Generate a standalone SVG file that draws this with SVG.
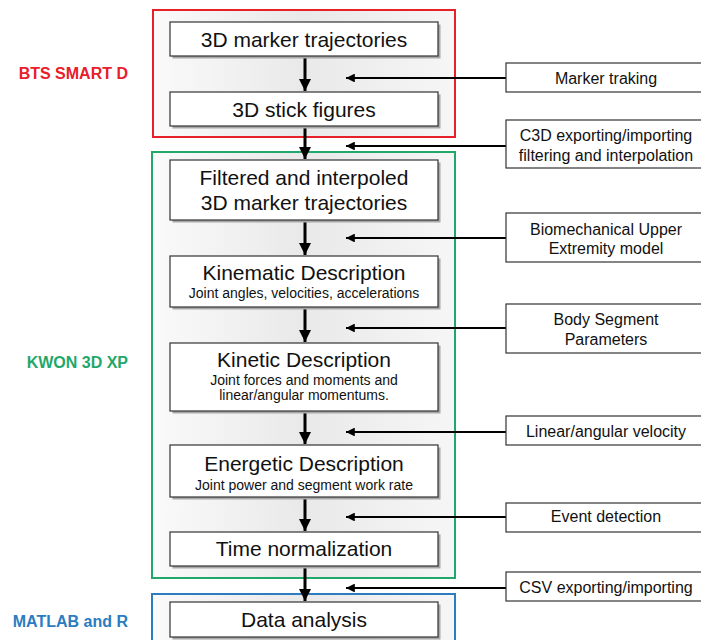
<svg xmlns="http://www.w3.org/2000/svg" width="701" height="640" viewBox="0 0 701 640">
<defs>
<linearGradient id="bg" x1="0" y1="0" x2="1" y2="0">
<stop offset="0" stop-color="#fafafa"/>
<stop offset="0.5" stop-color="#e9e9e9"/>
<stop offset="1" stop-color="#f6f6f6"/>
</linearGradient>
<marker id="ah" viewBox="0 0 10 10" refX="10" refY="5" markerWidth="4" markerHeight="4" orient="auto" markerUnits="strokeWidth">
<path d="M0,0 L10,5 L0,10 z" fill="#000"/>
</marker>
<marker id="ah2" viewBox="0 0 10 10" refX="10" refY="5" markerWidth="4.5" markerHeight="4" orient="auto" markerUnits="strokeWidth">
<path d="M0,0 L10,5 L0,10 z" fill="#000"/>
</marker>
</defs>
<style>
.frame{stroke-width:2;}
.box{fill:#fff;stroke:#333;stroke-width:1.2;}
.shadow{fill:#a8a8a8;}
.rbox{fill:#fff;stroke:#333;stroke-width:1.2;}
.t{font-family:"Liberation Sans",Arial,sans-serif;fill:#111;text-anchor:middle;}
.main{font-size:21px;}
.sub{font-size:14px;}
.side{font-size:16px;}
.grp{font-family:"Liberation Sans",Arial,sans-serif;font-weight:bold;font-size:16px;text-anchor:end;}
.v{stroke:#000;stroke-width:3;fill:none;marker-end:url(#ah);}
.h{stroke:#000;stroke-width:2.2;fill:none;marker-end:url(#ah2);}
</style>
<rect width="701" height="640" fill="#fff"/>

<g id="frames">
<rect x="153" y="10" width="302" height="127" fill="url(#bg)" stroke="#e8202a" class="frame"/>
<rect x="152" y="152" width="303" height="426" fill="url(#bg)" stroke="#1fa86a" class="frame"/>
<rect x="152" y="594" width="303" height="52" fill="url(#bg)" stroke="#2b7cc0" class="frame"/>
<text class="grp" x="128" y="79" fill="#e8202a">BTS SMART D</text>
<text class="grp" x="128" y="368" fill="#1fa86a">KWON 3D XP</text>
<text class="grp" x="128" y="627" fill="#2b7cc0">MATLAB and R</text>
</g>

<g id="connectors">
<line class="v" x1="305" y1="57" x2="305" y2="91"/>
<line class="v" x1="305" y1="127" x2="305" y2="159"/>
<line class="v" x1="305" y1="221" x2="305" y2="255"/>
<line class="v" x1="305" y1="308" x2="305" y2="342"/>
<line class="v" x1="305" y1="412" x2="305" y2="444"/>
<line class="v" x1="305" y1="498" x2="305" y2="531"/>
<line class="v" x1="305" y1="567" x2="305" y2="601"/>
<line class="h" x1="506" y1="78" x2="346" y2="78"/>
<line class="h" x1="506" y1="146" x2="346" y2="146"/>
<line class="h" x1="506" y1="238" x2="346" y2="238"/>
<line class="h" x1="506" y1="328" x2="346" y2="328"/>
<line class="h" x1="506" y1="432" x2="346" y2="432"/>
<line class="h" x1="506" y1="517" x2="346" y2="517"/>
<line class="h" x1="506" y1="588" x2="346" y2="588"/>
</g>

<g id="n1"><rect class="shadow" x="172.5" y="24.5" width="268" height="34"/><rect class="box" x="170" y="22" width="268" height="34"/><text class="t main" x="304" y="46.5">3D marker trajectories</text></g>
<g id="n2"><rect class="shadow" x="172.5" y="94.5" width="268" height="34"/><rect class="box" x="170" y="92" width="268" height="34"/><text class="t main" x="304" y="116.5">3D stick figures</text></g>
<g id="n3"><rect class="shadow" x="172.5" y="162.5" width="268" height="60"/><rect class="box" x="170" y="160" width="268" height="60"/><text class="t main" x="304" y="185">Filtered and interpoled</text><text class="t main" x="304" y="210">3D marker trajectories</text></g>
<g id="n4"><rect class="shadow" x="172.5" y="258.5" width="268" height="51"/><rect class="box" x="170" y="256" width="268" height="51"/><text class="t main" x="304" y="280">Kinematic Description</text><text class="t sub" x="304" y="298">Joint angles, velocities, accelerations</text></g>
<g id="n5"><rect class="shadow" x="172.5" y="345.5" width="268" height="68"/><rect class="box" x="170" y="343" width="268" height="68"/><text class="t main" x="304" y="367">Kinetic Description</text><text class="t sub" x="304" y="385">Joint forces and moments and</text><text class="t sub" x="304" y="400">linear/angular momentums.</text></g>
<g id="n6"><rect class="shadow" x="172.5" y="447.5" width="268" height="52"/><rect class="box" x="170" y="445" width="268" height="52"/><text class="t main" x="304" y="471">Energetic Description</text><text class="t sub" x="304" y="490">Joint power and segment work rate</text></g>
<g id="n7"><rect class="shadow" x="172.5" y="534.5" width="268" height="34"/><rect class="box" x="170" y="532" width="268" height="34"/><text class="t main" x="304" y="556">Time normalization</text></g>
<g id="n8"><rect class="shadow" x="172.5" y="604.5" width="268" height="35"/><rect class="box" x="170" y="602" width="268" height="35"/><text class="t main" x="304" y="627">Data analysis</text></g>

<g id="r1"><rect class="rbox" x="506" y="63" width="200" height="29"/><text class="t side" x="606" y="84">Marker traking</text></g>
<g id="r2"><rect class="rbox" x="506" y="120" width="200" height="48"/><text class="t side" x="606" y="141">C3D exporting/importing</text><text class="t side" x="606" y="161">filtering and interpolation</text></g>
<g id="r3"><rect class="rbox" x="506" y="213" width="200" height="49"/><text class="t side" x="606" y="235">Biomechanical Upper</text><text class="t side" x="606" y="254">Extremity model</text></g>
<g id="r4"><rect class="rbox" x="506" y="304" width="200" height="49"/><text class="t side" x="606" y="325">Body Segment</text><text class="t side" x="606" y="345">Parameters</text></g>
<g id="r5"><rect class="rbox" x="506" y="416" width="200" height="29"/><text class="t side" x="606" y="437">Linear/angular velocity</text></g>
<g id="r6"><rect class="rbox" x="506" y="503" width="200" height="29"/><text class="t side" x="606" y="522">Event detection</text></g>
<g id="r7"><rect class="rbox" x="506" y="572" width="200" height="29"/><text class="t side" x="606" y="593">CSV exporting/importing</text></g>
</svg>
